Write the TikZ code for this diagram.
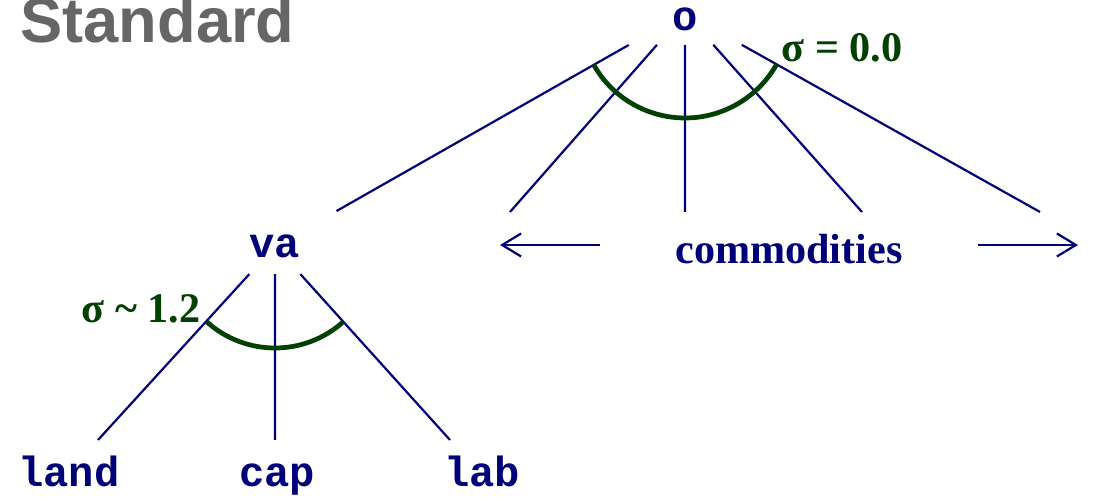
\documentclass[tikz,border=0pt]{standalone}
\usepackage{fontspec}
\setmainfont{Liberation Serif}
\setsansfont{Liberation Sans}
\setmonofont{Liberation Mono}
\usetikzlibrary{arrows.meta, calc}
\definecolor{navy}{RGB}{0,0,120}
\definecolor{darkgreen}{RGB}{0,64,0}
\definecolor{titlegray}{RGB}{102,102,102}

\begin{document}
\begin{tikzpicture}[x=0.02cm, y=0.02cm,
    branch/.style={navy, line width=1.25pt},
    sigarc/.style={darkgreen, line width=2.7pt},
    code/.style={navy, inner sep=0pt, font=\fontsize{24}{28}\selectfont\ttfamily\bfseries},
    word/.style={navy, inner sep=0pt, font=\fontsize{24}{28}\selectfont\bfseries},
    siglabel/.style={darkgreen, inner sep=0pt, anchor=base, font=\fontsize{24}{28}\selectfont\bfseries}]
  \useasboundingbox (0,0) rectangle (1096,500);
  % title
  \node[titlegray, inner sep=0pt, anchor=base west, font=\fontsize{36}{40}\selectfont\sffamily\bfseries] (title) at (20,457) {Standard};

  % top nest: output o
  \node[code] (o) at (685,481) {o};
  \coordinate (hub) at (685,487);
  \node[code] (va) at (275,254) {va};
  \node[word, anchor=base] (comm) at (789,236) {commodities};
  \coordinate (k1) at (510,288);
  \coordinate (k2) at (685,288);
  \coordinate (k3) at (862,288);
  \coordinate (k4) at (1040,288);
  \draw[branch] ($(hub)!0.137!(va.center)$) -- ($(hub)!0.85!(va.center)$);
  \foreach \k in {1,...,4}
    \draw[branch] ($(hub)!0.16!(k\k)$) -- (k\k);
  \draw[sigarc] ($(hub)+(209.5:105)$) arc[start angle=209.5, end angle=330.7, radius=105];
  \node[siglabel] (s0) at (842,438) {σ = 0.0};

  % arrows either side of commodities
  \coordinate (la1) at (600,255);
  \coordinate (la2) at (500,255);
  \coordinate (ra1) at (978,255);
  \coordinate (ra2) at (1078,255);
  \draw[branch, -{Straight Barb[length=0.38cm, width=0.46cm]}] (la1) -- (la2);
  \draw[branch, -{Straight Barb[length=0.38cm, width=0.46cm]}] (ra1) -- (ra2);

  % value added nest
  \node[code, anchor=base] (land) at (69,13) {land};
  \node[code, anchor=base] (cap) at (277,13) {cap};
  \node[code, anchor=base] (lab) at (482,13) {lab};
  \coordinate (e1) at (98,60);
  \coordinate (e2) at (275,60);
  \coordinate (e3) at (450,60);
  \foreach \e in {1,2,3}
    \draw[branch] ($(va.center)!0.145!(e\e)$) -- (e\e);
  \draw[sigarc] ($(va.center)+(228:102)$) arc[start angle=228, end angle=312, radius=102];
  \node[siglabel] (s1) at (141,177) {σ \textasciitilde{} 1.2};
\end{tikzpicture}
\end{document}
